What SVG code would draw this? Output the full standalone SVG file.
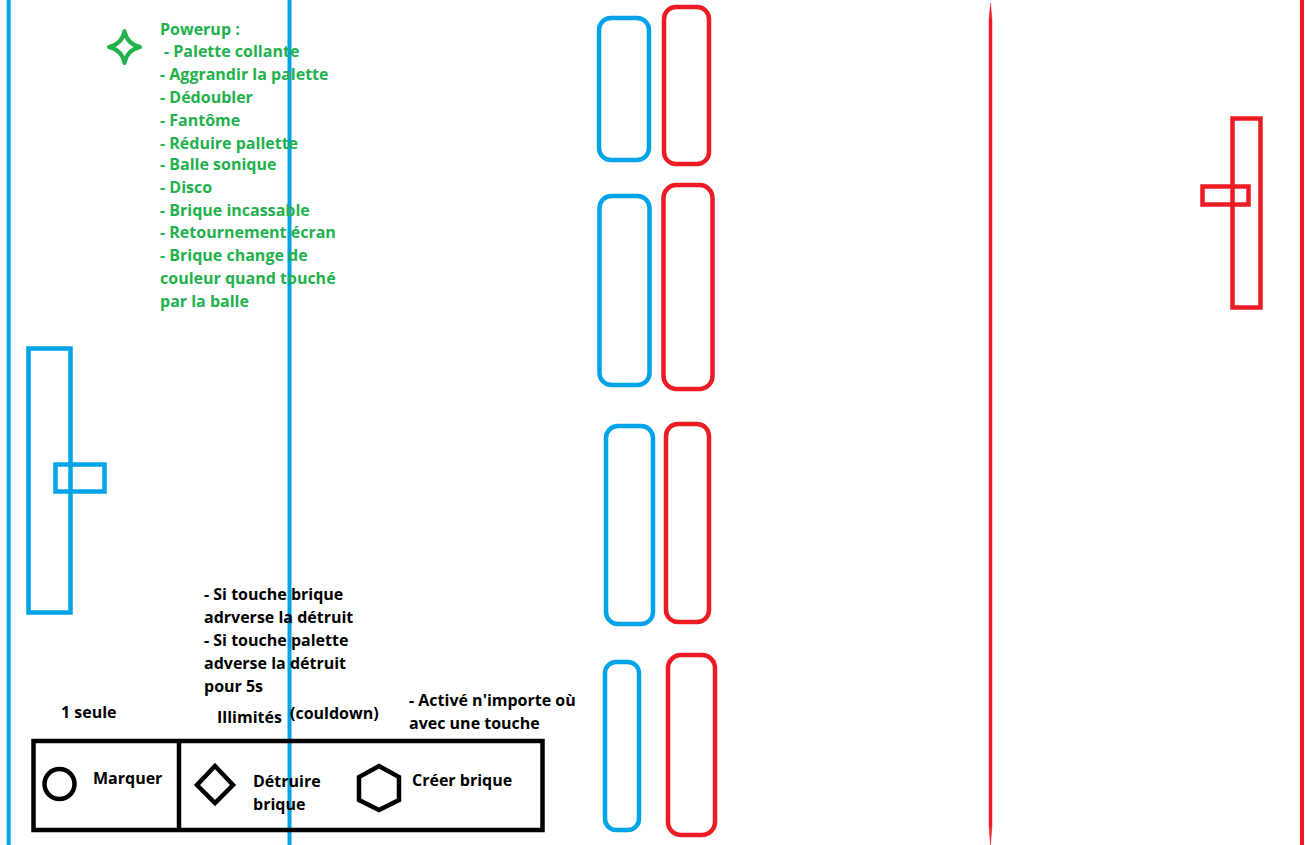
<svg xmlns="http://www.w3.org/2000/svg" width="1305" height="845" viewBox="0 0 1305 845">
<style>
.g{fill:#22b14c;font-family:"Open Sans",Lato,sans-serif;font-weight:bold;font-size:16px}
.k{fill:#000;font-family:"Open Sans",Lato,sans-serif;font-weight:bold;font-size:16px}
.bl{fill:none;stroke:#00a2e8;stroke-width:4.5}
.rd{fill:none;stroke:#ed1c24;stroke-width:4.5}
.bk{fill:none;stroke:#000;stroke-width:4.5}
</style>
<rect width="1305" height="845" fill="#fff"/>
<g id="lines">
<line x1="8.7" y1="0" x2="8.7" y2="845" stroke="#00a2e8" stroke-width="4"/>
<line x1="289.5" y1="0" x2="289.5" y2="845" stroke="#00a2e8" stroke-width="4"/>
<path d="M990.5 3 L992 20 L992 825 L990.5 845 L989 825 L989 20 Z" fill="#ed1c24" stroke="#ed1c24" stroke-width="0.5"/>
<line x1="1302" y1="0" x2="1302" y2="845" stroke="#ed1c24" stroke-width="4"/>
</g>
<g id="powerup">
<path d="M124.5 31 Q127 44 140 47 Q127 50 124.5 63 Q122 50 109 47 Q122 44 124.5 31 Z" fill="none" stroke="#22b14c" stroke-width="4" stroke-linejoin="round"/>
<text class="g" x="160" y="35">Powerup :</text>
<text class="g" x="164" y="57">- Palette collante</text>
<text class="g" x="160" y="80">- Aggrandir la palette</text>
<text class="g" x="160" y="103">- Dédoubler</text>
<text class="g" x="160" y="126">- Fantôme</text>
<text class="g" x="160" y="149">- Réduire pallette</text>
<text class="g" x="160" y="170">- Balle sonique</text>
<text class="g" x="160" y="193">- Disco</text>
<text class="g" x="160" y="216">- Brique incassable</text>
<text class="g" x="160" y="238">- Retournement écran</text>
<text class="g" x="160" y="261">- Brique change de</text>
<text class="g" x="160" y="284">couleur quand touché</text>
<text class="g" x="160" y="307">par la balle</text>
</g>
<g id="paddle-blue">
<rect class="bl" x="28.5" y="348.5" width="42" height="264"/>
<rect class="bl" x="55.5" y="464.5" width="49" height="27"/>
</g>
<g id="paddle-red">
<rect class="rd" x="1232.5" y="118.5" width="28" height="189"/>
<rect class="rd" x="1202.5" y="186.5" width="46" height="18"/>
</g>
<g id="bricks-blue">
<rect class="bl" x="599" y="18" width="50" height="142" rx="12"/>
<rect class="bl" x="599.5" y="196" width="50" height="189" rx="12"/>
<rect class="bl" x="606" y="426" width="47" height="198" rx="12"/>
<rect class="bl" x="605" y="662" width="34" height="168" rx="11"/>
</g>
<g id="bricks-red">
<rect class="rd" x="664" y="7" width="45" height="157" rx="12"/>
<rect class="rd" x="663.5" y="185" width="49" height="204" rx="13"/>
<rect class="rd" x="666" y="424" width="43" height="198" rx="12"/>
<rect class="rd" x="668" y="655" width="47" height="180" rx="13"/>
</g>
<g id="notes">
<text class="k" x="204" y="600">- Si touche brique</text>
<text class="k" x="204" y="623">adrverse la détruit</text>
<text class="k" x="204" y="646">- Si touche palette</text>
<text class="k" x="204" y="669">adverse la détruit</text>
<text class="k" x="204" y="692">pour 5s</text>
<text class="k" x="61" y="718">1 seule</text>
<text class="k" x="217" y="723">Illimités</text>
<text class="k" x="290" y="719">(couldown)</text>
<text class="k" x="409" y="706">- Activé n'importe où</text>
<text class="k" x="409" y="729">avec une touche</text>
</g>
<g id="toolbar">
<rect class="bk" x="33.5" y="741" width="509" height="89"/>
<line class="bk" x1="179" y1="741" x2="179" y2="830"/>
<circle class="bk" cx="59.5" cy="784" r="15"/>
<path class="bk" d="M215 766 L233 785 L215 803 L197 785 Z"/>
<path class="bk" d="M379 766 L399 777 L399 800 L379 810 L359 800 L359 777 Z"/>
<text class="k" x="93" y="784">Marquer</text>
<text class="k" x="253" y="787">Détruire</text>
<text class="k" x="253" y="810">brique</text>
<text class="k" x="412" y="786">Créer brique</text>
</g>
</svg>
